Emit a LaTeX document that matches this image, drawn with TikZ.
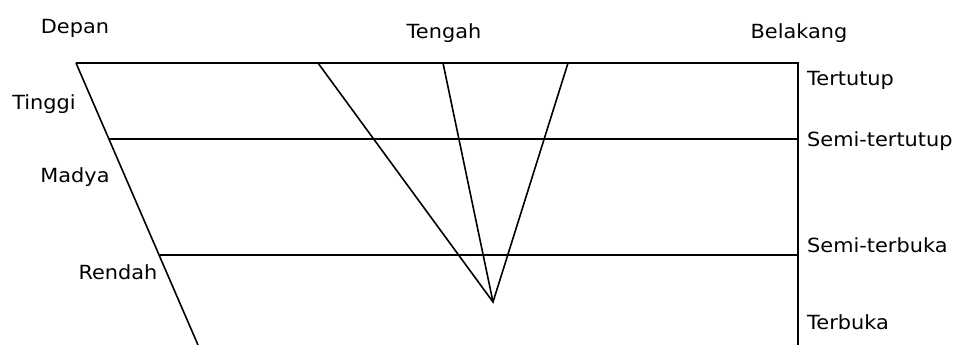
\documentclass[tikz,border=0pt]{standalone}
\usepackage{fontspec}
\setmainfont{DejaVu Sans}
\usepackage{tikz}

\begin{document}
\begin{tikzpicture}[
  x=1pt, y=-1pt,
  line/.style={line width=1.6pt},
  lbl/.style={font=\fontsize{19.5}{23}\selectfont, xscale=1.07, transform shape, inner sep=0pt},
  rlbl/.style={lbl, anchor=west}
]
\useasboundingbox (0,0) rectangle (955,345);
% frame points
\coordinate (tl) at (76,63);
\coordinate (tr) at (798,63);
\coordinate (ml) at (109,139);
\coordinate (mr) at (798,139);
\coordinate (ll) at (160,255);
\coordinate (lr) at (798,255);
\coordinate (bl) at (198,345);
\coordinate (br) at (798,345);
% vowel lines
\coordinate (t1) at (318,63);
\coordinate (t2) at (443,63);
\coordinate (t3) at (568,63);
\coordinate (apex) at (493,302);

\draw[line] (tl) -- (tr) -- (br);
\draw[line] (tl) -- (bl);
\draw[line] (ml) -- (mr);
\draw[line] (ll) -- (lr);
\draw[line] (t1) -- (apex) -- (t3);
\draw[line] (t2) -- (apex);

\node[lbl] (depan) at (75,28) {Depan};
\node[lbl] (tengah) at (444,33) {Tengah};
\node[lbl] (belakang) at (799,33) {Belakang};
\node[lbl] (tinggi) at (44,104) {Tinggi};
\node[lbl] (madya) at (75,177) {Madya};
\node[lbl] (rendah) at (118,272) {Rendah};
\node[rlbl] (tertutup) at (807,80) {Tertutup};
\node[rlbl] (stertutup) at (807,141) {Semi-tertutup};
\node[rlbl] (sterbuka) at (807,245) {Semi-terbuka};
\node[rlbl] (terbuka) at (807,322) {Terbuka};
\end{tikzpicture}
\end{document}
